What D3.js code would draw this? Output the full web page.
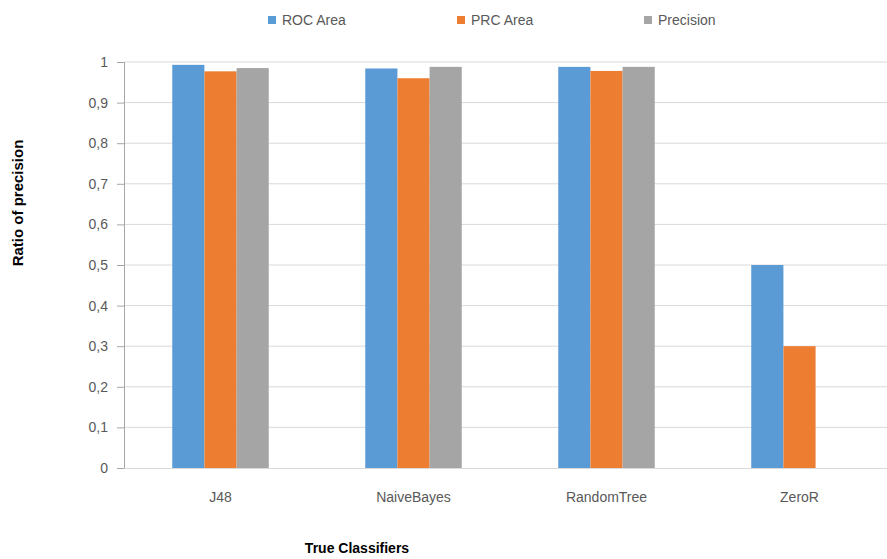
<!DOCTYPE html>
<html>
<head>
<meta charset="utf-8">
<script src="https://cdn.jsdelivr.net/npm/d3@7"></script>
<style>
  body { margin: 0; background: #fff; }
  svg { display: block; font-family: "Liberation Sans", Arial, sans-serif; }
</style>
</head>
<body>
<svg id="chart" width="887" height="559"></svg>
<script>
// Classifiers evaluated
const categories = ["J48", "NaiveBayes", "RandomTree", "ZeroR"];
// Metric series
const seriesNames = ["ROC Area", "PRC Area", "Precision"];
const rocArea   = [0.993, 0.984, 0.988, 0.5];
const prcArea   = [0.977, 0.960, 0.978, 0.3];
const precision = [0.985, 0.988, 0.988, 0];
const yTicks = [0, 0.1, 0.2, 0.3, 0.4, 0.5, 0.6, 0.7, 0.8, 0.9, 1];
const colors = ["#5B9BD5", "#ED7D31", "#A5A5A5"];

const seriesValues = [rocArea, prcArea, precision];
const rows = categories.map((c, i) => ({
  category: c,
  values: seriesNames.map((s, j) => ({ series: s, value: seriesValues[j][i], color: colors[j] }))
}));

const svg = d3.select("#chart");
const margin = { left: 124, right: -9, top: 62, bottom: 91 };
const width = 887, height = 559;

const x = d3.scaleBand()
  .domain(categories)
  .range([margin.left, width - margin.right])
  .paddingInner(0.5)
  .paddingOuter(0.25);

const xInner = d3.scaleBand()
  .domain(seriesNames)
  .range([0, x.bandwidth()]);

const y = d3.scaleLinear()
  .domain([0, 1])
  .range([height - margin.bottom, margin.top]);

// Horizontal gridlines
svg.append("g")
  .selectAll("line")
  .data(yTicks.filter(d => d > 0))
  .join("line")
  .attr("x1", margin.left)
  .attr("x2", width)
  .attr("y1", d => y(d))
  .attr("y2", d => y(d))
  .attr("stroke", "#d9d9d9")
  .attr("stroke-width", 1);

// Bars
svg.append("g")
  .selectAll("g")
  .data(rows)
  .join("g")
  .attr("transform", d => `translate(${x(d.category)},0)`)
  .selectAll("rect")
  .data(d => d.values.filter(v => v.value > 0))
  .join("rect")
  .attr("x", d => xInner(d.series))
  .attr("width", xInner.bandwidth())
  .attr("y", d => y(d.value))
  .attr("height", d => y(0) - y(d.value))
  .attr("fill", d => d.color);

// Y axis
const yAxis = svg.append("g")
  .attr("transform", `translate(${margin.left},0)`)
  .call(d3.axisLeft(y).tickValues(yTicks).tickSize(7).tickPadding(9)
    .tickFormat(d => d === 0 || d === 1 ? String(d) : d3.format(".1f")(d).replace(".", ",")));
yAxis.select(".domain").attr("stroke", "#a6a6a6");
yAxis.selectAll(".tick line").attr("stroke", "#a6a6a6");
yAxis.selectAll(".tick text").attr("fill", "#595959").style("font-size", "14px");

// X axis baseline
const xAxis = svg.append("g")
  .attr("transform", `translate(0,${y(0)})`)
  .call(d3.axisBottom(x).tickSize(0).tickPadding(24));
xAxis.select(".domain").attr("stroke", "#d9d9d9");
xAxis.selectAll(".tick text").attr("fill", "#595959").style("font-size", "14px");

// Axis titles
svg.append("text")
  .attr("transform", `translate(23,${(y(0) + y(1)) / 2 - 62}) rotate(-90)`)
  .attr("text-anchor", "middle")
  .attr("font-weight", "bold")
  .attr("fill", "#000")
  .style("font-size", "15px")
  .text("Ratio of precision");

svg.append("text")
  .attr("x", 357)
  .attr("y", 553)
  .attr("text-anchor", "middle")
  .attr("font-weight", "bold")
  .attr("fill", "#000")
  .style("font-size", "14px")
  .text("True Classifiers");

// Legend
const legendX = [268, 457, 644];
const legend = svg.append("g")
  .selectAll("g")
  .data(seriesNames)
  .join("g")
  .attr("transform", (d, i) => `translate(${legendX[i]},20)`);
legend.append("rect")
  .attr("x", 0).attr("y", -4)
  .attr("width", 8).attr("height", 8)
  .attr("fill", (d, i) => colors[i]);
legend.append("text")
  .attr("x", 14).attr("y", 0)
  .attr("dy", "0.35em")
  .attr("fill", "#595959")
  .style("font-size", "14px")
  .text(d => d);
</script>
</body>
</html>
